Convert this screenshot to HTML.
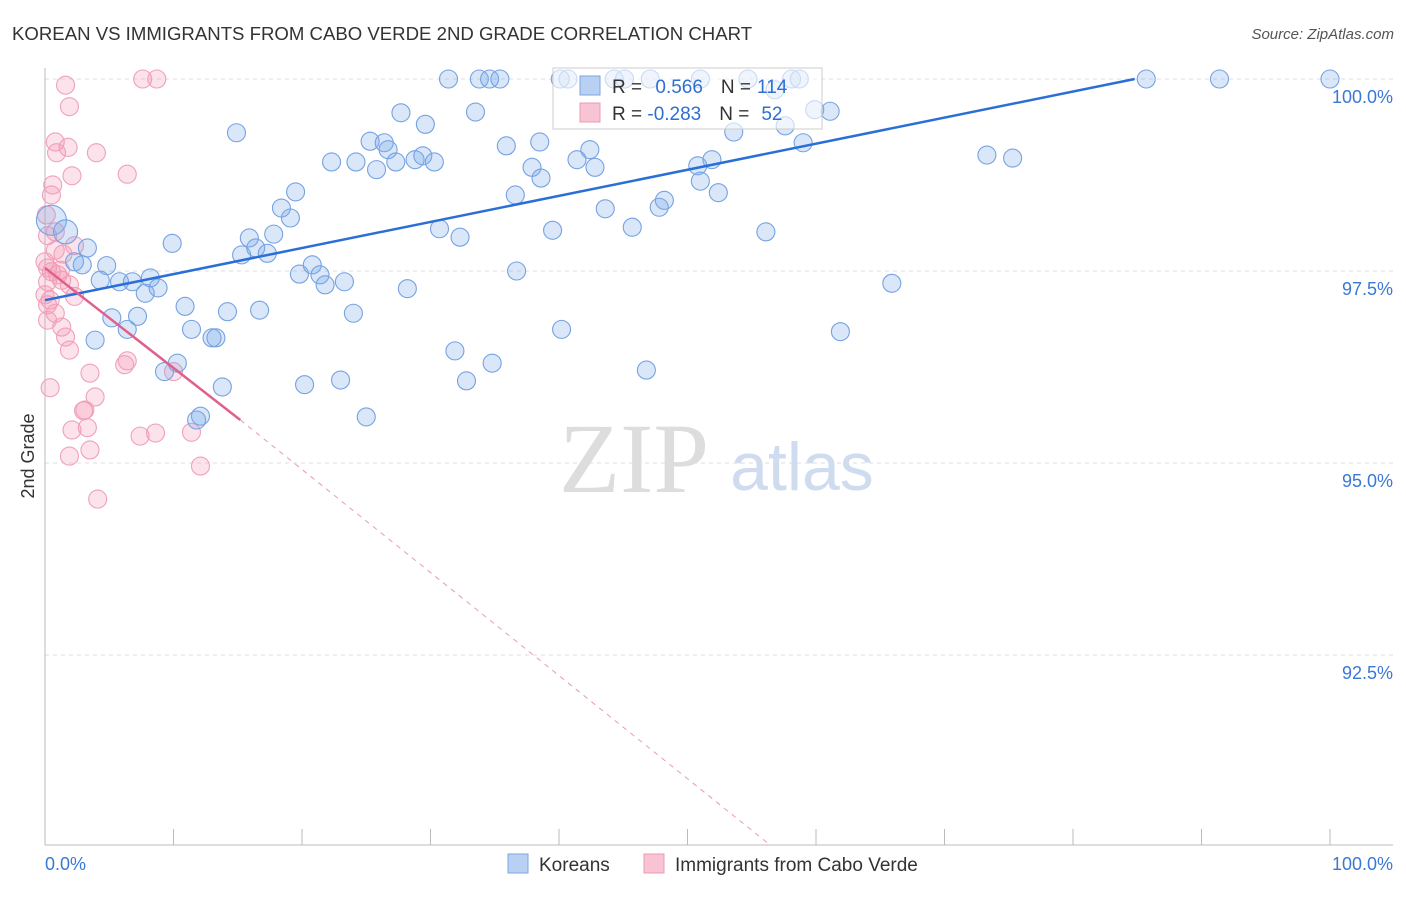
<!DOCTYPE html>
<html><head><meta charset="utf-8"><style>
body{margin:0;background:#fff;font-family:"Liberation Sans",sans-serif}
</style></head><body>
<svg id="c" width="1406" height="892" xmlns="http://www.w3.org/2000/svg">
<text x="12" y="40" font-size="18.6" fill="#333">KOREAN VS IMMIGRANTS FROM CABO VERDE 2ND GRADE CORRELATION CHART</text>
<text x="1394" y="39" font-size="15" fill="#555" text-anchor="end" font-style="italic">Source: ZipAtlas.com</text>
<text x="634" y="492" font-size="100" fill="#ddd" text-anchor="middle" font-family="Liberation Serif">ZIP</text>
<text x="802" y="490" font-size="68" fill="#cfdcf0" text-anchor="middle">atlas</text>
<text x="34" y="456" font-size="18" fill="#333" text-anchor="middle" transform="rotate(-90 34 456)">2nd Grade</text>
<g id="grid"></g><g id="pts"></g><g id="lines"></g>
<g>
<rect x="553" y="68" width="269" height="61" fill="#fff" fill-opacity="0.6" stroke="#ccc"/>
<rect x="580" y="76" width="20" height="19" fill="#b8d0f2" stroke="#7ea6e0"/>
<rect x="580" y="103" width="20" height="19" fill="#f8c4d4" stroke="#ec9ab4"/>
<text x="612" y="93" font-size="19" fill="#333">R = <tspan fill="#2e6fd1" dx="8">0.566</tspan><tspan fill="#333" dx="18">N =</tspan><tspan fill="#2e6fd1" dx="6">114</tspan></text>
<text x="612" y="120" font-size="19" fill="#333">R = <tspan fill="#2e6fd1">-0.283</tspan><tspan fill="#333" dx="18">N =</tspan><tspan fill="#2e6fd1" dx="12">52</tspan></text>
</g>
<g>
<rect x="508" y="854" width="20" height="19" fill="#b8d0f2" stroke="#7ea6e0"/>
<text x="539" y="871" font-size="19" fill="#333">Koreans</text>
<rect x="644" y="854" width="20" height="19" fill="#f8c4d4" stroke="#ec9ab4"/>
<text x="675" y="871" font-size="19" fill="#333">Immigrants from Cabo Verde</text>
</g>
<text x="45" y="870" font-size="18" fill="#3a78d6">0.0%</text>
<text x="1393" y="870" font-size="18" fill="#3a78d6" text-anchor="end">100.0%</text>
</svg>
<script>
const yTicks=[100,97.5,95,92.5];
const yTickLabels=["100.0%","97.5%","95.0%","92.5%"];
const blueX=[0.5,1.6,3.3,2.3,2.9,4.8,4.3,5.8,6.8,8.2,7.8,8.8,5.2,7.2,6.4,3.9,10.9,9.9,11.4,14.2,13.0,13.3,16.7,10.3,9.3,12.1,11.8,13.8,14.9,15.9,15.3,16.4,17.3,17.8,18.4,19.1,19.5,19.8,20.8,21.4,21.8,23.3,24.0,20.2,23.0,25.0,22.3,24.2,25.3,26.4,25.8,26.7,27.3,28.8,29.4,30.3,27.7,29.6,31.4,33.8,34.6,35.4,33.5,35.9,36.6,30.7,32.3,28.2,31.9,32.8,34.8,36.7,38.5,37.9,38.6,39.5,40.2,41.4,42.4,42.8,43.6,45.7,40.1,40.7,46.8,47.8,48.2,50.8,51.9,51.0,52.4,53.6,56.1,54.7,56.8,57.6,58.1,58.7,59.0,59.9,61.1,61.9,65.9,73.3,75.3,85.7,91.4,100,47.1,51.0,45.1,44.3];
const blueY=[98.16,98.01,97.80,97.62,97.58,97.57,97.38,97.36,97.36,97.41,97.21,97.28,96.89,96.91,96.74,96.60,97.04,97.86,96.74,96.97,96.63,96.63,96.99,96.30,96.19,95.61,95.56,95.99,99.30,97.93,97.71,97.80,97.73,97.98,98.32,98.19,98.53,97.46,97.58,97.45,97.32,97.36,96.95,96.02,96.08,95.60,98.92,98.92,99.19,99.17,98.82,99.08,98.92,98.95,99.00,98.92,99.56,99.41,100,100,100,100,99.57,99.13,98.49,98.05,97.94,97.27,96.46,96.07,96.30,97.50,99.18,98.85,98.71,98.03,96.74,98.95,99.08,98.85,98.31,98.07,100,100,96.21,98.33,98.42,98.87,98.95,98.67,98.52,99.31,98.01,100,99.86,99.39,100,100,99.17,99.60,99.58,96.71,97.34,99.01,98.97,100,100,100,100,100,100,100];
const pinkX=[1.6,1.9,7.6,8.7,0.8,1.8,0.9,4.0,6.4,2.1,0.6,0.5,0.1,0.8,0.2,2.3,1.4,0.8,0.5,1.0,1.3,0.2,1.9,2.3,0.4,0.2,0.8,1.3,1.6,1.9,6.4,6.2,3.5,0.4,3.9,3.0,3.1,10.0,3.3,2.1,7.4,8.6,11.4,1.9,3.5,12.1,4.1,0,0.2,1.2,0,0.2];
const pinkY=[99.92,99.64,100,100,99.18,99.11,99.04,99.04,98.76,98.74,98.62,98.49,98.23,98.01,97.96,97.83,97.72,97.77,97.49,97.45,97.38,97.36,97.32,97.17,97.12,97.06,96.95,96.77,96.64,96.47,96.33,96.28,96.17,95.98,95.86,95.68,95.69,96.19,95.46,95.43,95.35,95.39,95.40,95.09,95.17,94.96,94.53,97.62,97.54,97.51,97.19,96.86];
const blueTrend=[[0,97.12],[84.8,100]];
const pinkTrendSolid=[[0,97.54],[15.2,95.56]];
const pinkTrendDash=[[15.2,95.56],[56.4,90.03]];
const NS="http://www.w3.org/2000/svg";
const X=v=>45+v*12.85, Y=v=>79+(100-v)*76.8;
function mk(t,a,p){const e=document.createElementNS(NS,t);for(const k in a)e.setAttribute(k,a[k]);p.appendChild(e);return e;}
const g=document.getElementById('grid');
yTicks.forEach((t,i)=>{
 const l=mk('line',{x1:45,x2:1393,y1:Y(t),y2:Y(t),stroke:'#ddd','stroke-dasharray':'4,4'},g);
 
 
 const tx=mk('text',{x:1393,y:Y(t)+24,'font-size':18,fill:'#3a78d6','text-anchor':'end'},g);
 tx.textContent=yTickLabels[i];
 
 
});
const ax=mk('line',{x1:45,x2:45,y1:68,y2:845,stroke:'#bbb'},g);


const bx=mk('line',{x1:45,x2:1393,y1:845,y2:845,stroke:'#bbb'},g);


for(let i=0;i<=10;i++){const t=mk('line',{x1:X(i*10),x2:X(i*10),y1:829,y2:845,stroke:'#bbb'},g);
 
 }
const P=document.getElementById('pts');
pinkX.forEach((x,i)=>{const c=mk('circle',{cx:X(x),cy:Y(pinkY[i]),r:9,fill:'rgba(244,150,180,0.28)',stroke:'#f0a0ba','stroke-width':1.1},P);
 
 });
blueX.forEach((x,i)=>{const c=mk('circle',{cx:X(x),cy:Y(blueY[i]),r:i==0?15:(i==1?12:9),fill:'rgba(120,168,232,0.28)',stroke:'#76a2e2','stroke-width':1.1},P);
 
 });
const L=document.getElementById('lines');
const b=mk('line',{x1:X(blueTrend[0][0]),y1:Y(blueTrend[0][1]),x2:X(blueTrend[1][0]),y2:Y(blueTrend[1][1]),stroke:'#2a6fd6','stroke-width':2.5},L);


const p1=mk('line',{x1:X(pinkTrendSolid[0][0]),y1:Y(pinkTrendSolid[0][1]),x2:X(pinkTrendSolid[1][0]),y2:Y(pinkTrendSolid[1][1]),stroke:'#e0608c','stroke-width':2.5},L);


const p2=mk('line',{x1:X(pinkTrendDash[0][0]),y1:Y(pinkTrendDash[0][1]),x2:X(pinkTrendDash[1][0]),y2:Y(pinkTrendDash[1][1]),stroke:'#e89ab4','stroke-width':1,'stroke-dasharray':'5,5'},L);


</script>
</body></html>
